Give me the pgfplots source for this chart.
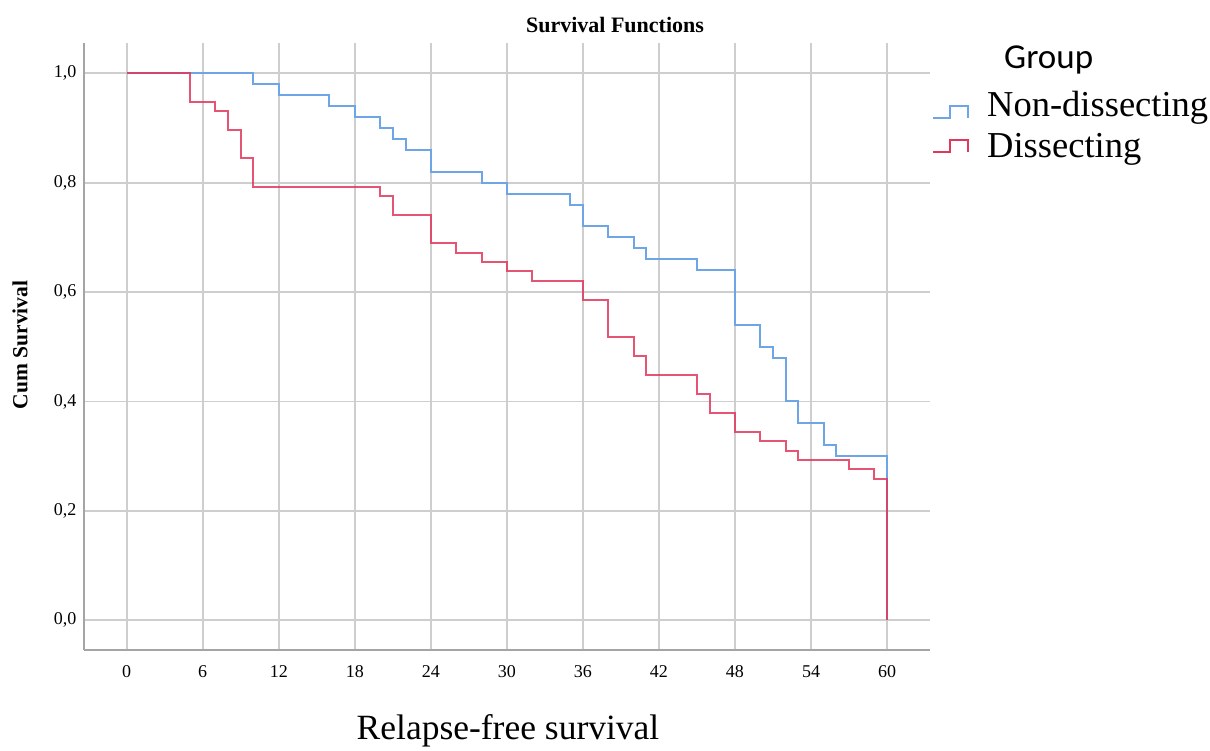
\documentclass[border=0pt]{standalone}
\usepackage{fontspec}
\setmainfont{Liberation Serif}
\newfontfamily\calibri{Carlito}
\usepackage{pgfplots}
\pgfplotsset{compat=1.18}
\definecolor{kmblue}{RGB}{110,165,230}
\definecolor{kmred}{RGB}{225,55,90}
\definecolor{gridc}{RGB}{206,206,206}
\definecolor{axisc}{RGB}{165,165,165}
\begin{document}
\begin{tikzpicture}[x=1pt,y=1pt]
\useasboundingbox (0,0) rectangle (1210,751);
\begin{axis}[
  at={(84pt,101pt)}, anchor=south west,
  scale only axis, width=846pt, height=607pt,
  xmin=-3.37, xmax=63.39, ymin=-0.0543, ymax=1.0554,
  axis x line*=bottom, axis y line*=left,
  axis line style={axisc, line width=2.5pt, -},
  xtick={0,6,...,60}, ytick={0,0.2,0.4,0.6,0.8,1.0},
  major tick length=0pt,
  grid=major, major grid style={gridc, line width=1.8pt},
  /pgf/number format/assume math mode=true,
  yticklabel style={/pgf/number format/use comma, /pgf/number format/fixed, /pgf/number format/fixed zerofill, /pgf/number format/precision=1, xshift=-4pt},
  ticklabel style={font=\fontsize{18}{20}\selectfont},
  xticklabel style={yshift=-12pt},
]
\addplot[kmblue, line width=2pt, const plot] coordinates {
(0,1) (10,0.98) (12,0.96) (16,0.94) (18,0.92) (20,0.90) (21,0.88) (22,0.86)
(24,0.82) (28,0.80) (30,0.78) (35,0.76) (36,0.72) (38,0.70) (40,0.68) (41,0.66)
(45,0.64) (48,0.54) (50,0.50) (51,0.48) (52,0.40) (53,0.36) (55,0.32) (56,0.30) (60,0)
};
\addplot[kmred, line width=2pt, const plot, opacity=0.85] coordinates {
(0,1) (5,0.948) (7,0.931) (8,0.897) (9,0.845) (10,0.793) (20,0.776) (21,0.741)
(24,0.690) (26,0.672) (28,0.655) (30,0.638) (32,0.621) (36,0.586) (38,0.517)
(40,0.483) (41,0.448) (45,0.414) (46,0.379) (48,0.345) (50,0.328) (52,0.310)
(53,0.293) (57,0.276) (59,0.259) (60,0)
};
\end{axis}
\node[font=\bfseries\fontsize{22}{24}\selectfont, anchor=base] at (615,718) {Survival Functions};
\node[rotate=90, font=\bfseries\fontsize{21.5}{24}\selectfont] at (20,406) {Cum Survival};
\node[font=\fontsize{35.5}{38}\selectfont, anchor=base] at (508,11) {Relapse-free survival};
\node[font=\calibri\fontsize{35}{38}\selectfont, anchor=base west, inner sep=0pt] at (1004,682) {Group};
\node[font=\fontsize{36.5}{38}\selectfont, anchor=base west, inner sep=0pt] at (987,634) {Non-dissecting};
\node[font=\fontsize{36.5}{38}\selectfont, anchor=base west, inner sep=0pt] at (987,593) {Dissecting};
\draw[kmblue, line width=2pt] (933,633) -- (950,633) -- (950,645) -- (968,645) -- (968,633);
\draw[kmred, line width=2pt] (933,599) -- (950,599) -- (950,611) -- (968,611) -- (968,599);
\end{tikzpicture}
\end{document}
